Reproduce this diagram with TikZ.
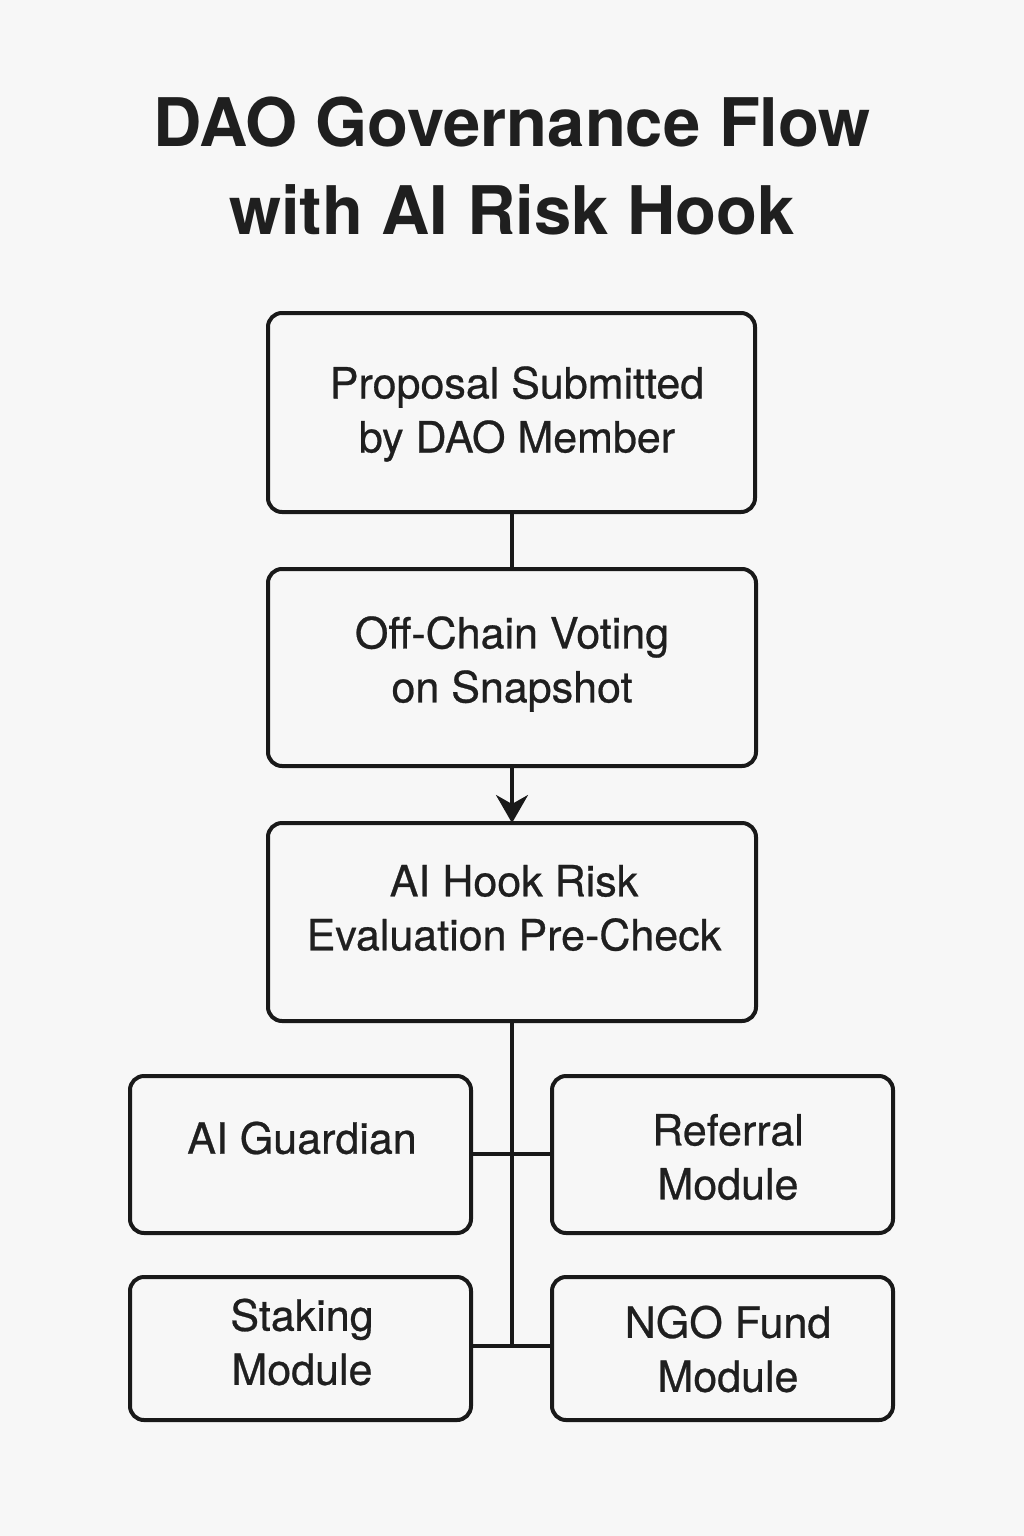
\documentclass[tikz,border=0pt]{standalone}
\usepackage{fontspec}
\setmainfont{TeX Gyre Heros}
\newfontfamily\medfont[FakeBold=0.6]{TeX Gyre Heros}
\usetikzlibrary{arrows.meta}
\begin{document}
\begin{tikzpicture}[x=1pt,y=-1pt,
  box/.style={draw=black!90,line width=4pt,rounded corners=14pt},
  lbl/.style={align=center,font=\medfont\fontsize{43}{54}\selectfont,text=black!88,inner sep=0pt},
  conn/.style={draw=black!90,line width=3.5pt},
  ttl/.style={align=center,font=\fontsize{67}{88}\selectfont\bfseries,text=black!88,inner sep=0pt}]
\fill[white!97!black] (0,0) rectangle (1024,1536);
\useasboundingbox (0,0) rectangle (1024,1536);
\node[ttl] (title) at (512,166) {DAO Governance Flow\\with AI Risk Hook};
% boxes
\draw[box] (268,313) rectangle (755,512);
\draw[box] (268,569) rectangle (756,766);
\draw[box] (268,823) rectangle (756,1021);
\draw[box] (130,1076) rectangle (471,1233);
\draw[box] (552,1076) rectangle (893,1233);
\draw[box] (130,1277) rectangle (471,1420);
\draw[box] (552,1277) rectangle (893,1420);
\coordinate (b1s) at (512,512);
\coordinate (b2n) at (512,569);
\coordinate (b2s) at (512,766);
\coordinate (b3n) at (512,823);
\coordinate (b3s) at (512,1021);
\coordinate (j1) at (512,1154);
\coordinate (j2) at (512,1346);
\coordinate (agE) at (471,1154);
\coordinate (rmW) at (552,1154);
\coordinate (smE) at (471,1346);
\coordinate (ngW) at (552,1346);
\node[lbl] (t1) at (517,414) {Proposal Submitted\\by DAO Member};
\node[lbl] (t2) at (512,664) {Off-Chain Voting\\on Snapshot};
\node[lbl] (t3) at (514,908) {AI Hook Risk\\Evaluation Pre-Check};
\node[lbl] (t4) at (302,1138) {AI Guardian};
\node[lbl] (t5) at (728,1157) {Referral\\Module};
\node[lbl] (t6) at (302,1342) {Staking\\Module};
\node[lbl] (t7) at (728,1349) {NGO Fund\\Module};
\draw[conn] (b1s) -- (b2n);
\draw[conn,-{Stealth[length=28pt,width=32pt,inset=9pt]}] (b2s) -- (b3n);
\draw[conn] (b3s) -- (j2);
\draw[conn] (agE) -- (rmW);
\draw[conn] (smE) -- (ngW);
\end{tikzpicture}
\end{document}
